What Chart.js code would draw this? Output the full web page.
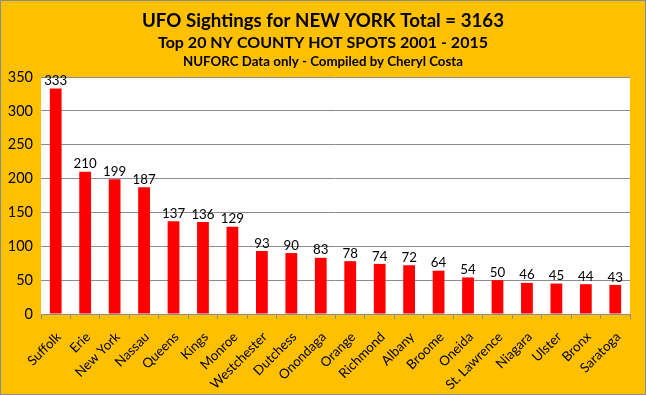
<!DOCTYPE html>
<html>
<head>
<meta charset="utf-8">
<script src="https://cdn.jsdelivr.net/npm/chart.js@4"></script>
<style>
  html, body { margin: 0; padding: 0; background: #FFC000; }
  #wrap { width: 646px; height: 395px; position: relative; box-sizing: border-box; }
</style>
</head>
<body>
<div id="wrap"><canvas id="ufoChart"></canvas></div>
<script>
var counties = ['Suffolk', 'Erie', 'New York', 'Nassau', 'Queens', 'Kings', 'Monroe', 'Westchester', 'Dutchess', 'Onondaga',
  'Orange', 'Richmond', 'Albany', 'Broome', 'Oneida', 'St. Lawrence', 'Niagara', 'Ulster', 'Bronx', 'Saratoga'];
var sightings = [333, 210, 199, 187, 137, 136, 129, 93, 90, 83, 78, 74, 72, 64, 54, 50, 46, 45, 44, 43];
var titleLines = ['UFO Sightings for NEW YORK Total = 3163', 'Top 20 NY COUNTY HOT SPOTS 2001 - 2015', 'NUFORC Data only - Compiled by Cheryl Costa'];

var fontFam = 'Lato, "Open Sans", sans-serif';

// background, border and the three title lines
var frame = {
  id: 'frame',
  beforeDraw: function (chart) {
    var c = chart.ctx;
    c.save();
    c.fillStyle = '#FFC000';
    c.fillRect(0, 0, chart.width, chart.height);
    c.fillStyle = '#ffffff';
    var a = chart.chartArea;
    c.fillRect(a.left, a.top, a.right - a.left, a.bottom - a.top);
    c.restore();
  },
  afterDraw: function (chart) {
    var c = chart.ctx;
    c.save();
    c.strokeStyle = '#8c8c8c';
    c.lineWidth = 1;
    c.strokeRect(0.5, 0.5, chart.width - 1, chart.height - 1);
    c.fillStyle = '#000000';
    c.textAlign = 'center';
    c.textBaseline = 'middle';
    c.font = 'bold 18.7px ' + fontFam;
    c.fillText(titleLines[0], chart.width / 2, 21);
    c.font = 'bold 16px ' + fontFam;
    c.fillText(titleLines[1], chart.width / 2, 43);
    c.font = 'bold 13.3px ' + fontFam;
    c.fillText(titleLines[2], chart.width / 2, 62);
    c.restore();
  }
};

// value labels above bars
var barLabels = {
  id: 'barLabels',
  afterDatasetsDraw: function (chart) {
    var c = chart.ctx;
    var meta = chart.getDatasetMeta(0);
    c.save();
    c.fillStyle = '#000000';
    c.font = '13.3px ' + fontFam;
    c.textAlign = 'center';
    c.textBaseline = 'bottom';
    meta.data.forEach(function (bar, i) {
      c.fillText(String(sightings[i]), bar.x, bar.y - 1);
    });
    c.restore();
  }
};

new Chart(document.getElementById('ufoChart').getContext('2d'), {
  type: 'bar',
  data: {
    labels: counties,
    datasets: [{
      data: sightings,
      backgroundColor: '#FF0000',
      borderWidth: 0,
      categoryPercentage: 1,
      barPercentage: 0.4
    }]
  },
  options: {
    responsive: true,
    maintainAspectRatio: false,
    animation: false,
    layout: { padding: { top: 77, right: 16, left: 0, bottom: 0 } },
    plugins: {
      legend: { display: false },
      title: { display: false },
      tooltip: { enabled: false }
    },
    scales: {
      x: {
        afterFit: function (s) { s.height = 81; },
        grid: { display: true, drawOnChartArea: false, offset: true, tickLength: 5, color: '#8c8c8c' },
        border: { color: '#8c8c8c' },
        ticks: {
          color: '#000000',
          font: { family: fontFam, size: 13.3 },
          minRotation: 45,
          maxRotation: 45,
          autoSkip: false,
          padding: 10,
          labelOffset: 3
        }
      },
      y: {
        min: 0,
        max: 350,
        afterFit: function (s) { s.width = 41; },
        grid: { color: '#8c8c8c', drawTicks: false },
        border: { display: false },
        ticks: {
          stepSize: 50,
          color: '#000000',
          font: { family: fontFam, size: 14.5 },
          padding: 8
        }
      }
    }
  },
  plugins: [frame, barLabels]
});
</script>
</body>
</html>
